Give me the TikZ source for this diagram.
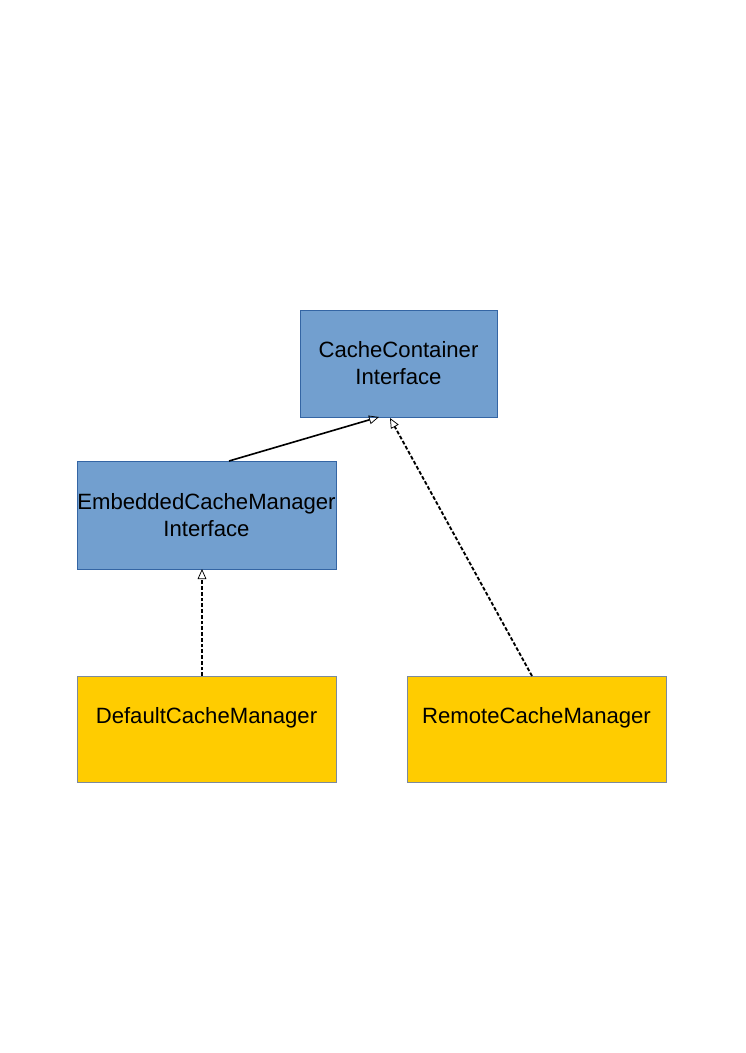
\documentclass[tikz,border=0pt]{standalone}
\usepackage{fontspec}
\setmainfont{Liberation Sans}
\usetikzlibrary{arrows.meta,calc}
\definecolor{ifacefill}{HTML}{729FCF}
\definecolor{ifaceedge}{HTML}{3465A4}
\definecolor{implfill}{HTML}{FFCC00}
\definecolor{impledge}{HTML}{7C8A9C}
\tikzset{
  box/.style={rectangle, inner sep=0pt, outer sep=0pt, line width=0.7pt,
    align=center, font=\fontsize{17.7}{21.6}\selectfont},
  iface/.style={box, fill=ifacefill, draw=ifaceedge},
  impl/.style={box, fill=implfill, draw=impledge},
  extends/.style={line width=1.3pt, -{Triangle[open, length=8pt, width=7pt, line width=0.6pt]}},
  realizes/.style={extends, line width=1.5pt, dash pattern=on 3pt off 1.6pt}
}
\begin{document}
\begin{tikzpicture}[x=0.8pt, y=-0.8pt]
  \useasboundingbox (0,0) rectangle (745,1053);
  % interfaces
  \node[iface, minimum width=157.6pt, minimum height=85.6pt] (cc) at (398.5,363.5)
    {CacheContainer\\Interface};
  \node[iface, minimum width=207.2pt, minimum height=86.4pt] (ecm) at (206.5,515)
    {EmbeddedCacheManager\\Interface};
  % implementations
  \node[impl, minimum width=207.2pt, minimum height=84.8pt] (dcm) at (206.5,729)
    {DefaultCacheManager\\\mbox{}};
  \node[impl, minimum width=207.2pt, minimum height=84.8pt] (rcm) at (536.5,729)
    {RemoteCacheManager\\\mbox{}};
  % relations
  \draw[extends] ($(ecm.north)+(22.5,0)$) -- ($(cc.south)+(-19.5,0)$);
  \draw[realizes] ($(dcm.north)+(-4.5,0)$) -- ($(ecm.south)+(-4.5,0)$);
  \draw[realizes] ($(rcm.north)+(-4.5,0)$) -- ($(cc.south)+(-8.5,1)$);
\end{tikzpicture}
\end{document}
